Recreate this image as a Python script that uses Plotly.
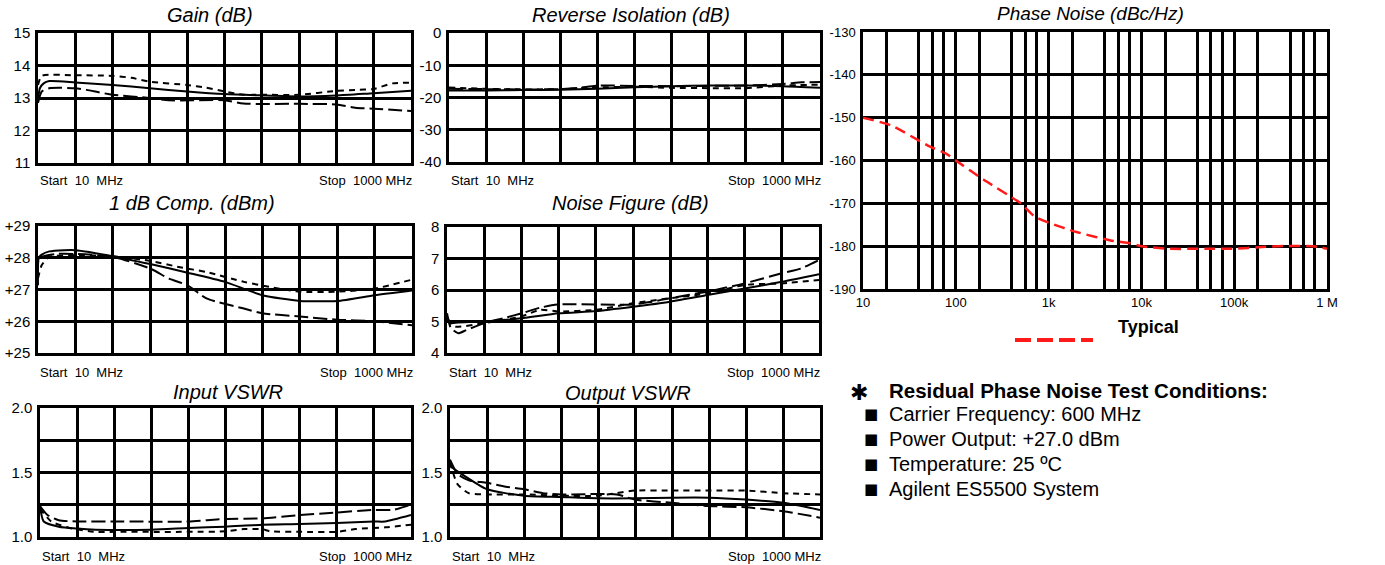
import plotly.graph_objects as go

W, H = 1385, 565

# ---------------- data (frequencies in MHz, values in panel units) ----------------
gain_solid_f = [10, 15, 25, 40, 109, 208, 307, 406, 505, 604, 703, 802, 901, 1000]
gain_solid_v = [12.93, 13.3, 13.45, 13.52, 13.48, 13.40, 13.30, 13.20, 13.12, 13.08, 13.05, 13.08, 13.15, 13.22]
gain_short_f = [10, 20, 109, 208, 258, 307, 406, 456, 505, 555, 604, 703, 802, 852, 901, 951, 1000]
gain_short_v = [13.4, 13.68, 13.70, 13.68, 13.62, 13.5, 13.4, 13.32, 13.2, 13.1, 13.1, 13.1, 13.22, 13.25, 13.28, 13.45, 13.47]
gain_long_f = [10, 20, 40, 109, 139, 208, 307, 357, 505, 555, 703, 802, 852, 901, 1000]
gain_long_v = [12.85, 13.2, 13.3, 13.3, 13.25, 13.1, 13.0, 12.93, 12.93, 12.83, 12.82, 12.8, 12.7, 12.67, 12.6]

iso_solid_f = [10, 109, 208, 307, 406, 505, 604, 703, 802, 901, 1000]
iso_solid_v = [-17.8, -17.8, -17.7, -17.6, -17.3, -16.8, -16.5, -16.3, -16.3, -16.5, -17.0]
iso_short_f = [10, 109, 208, 307, 406, 505, 604, 703, 802, 901, 1000]
iso_short_v = [-16.9, -17.3, -17.5, -17.4, -16.9, -16.7, -17.0, -17.1, -17.1, -16.3, -16.0]
iso_long_f = [10, 109, 208, 307, 357, 406, 505, 604, 703, 802, 901, 951, 1000]
iso_long_v = [-17.3, -17.4, -17.5, -17.4, -17.0, -16.3, -16.4, -16.5, -16.4, -16.3, -15.8, -15.3, -15.2]

comp_solid_f = [10, 12, 20, 40, 79, 109, 208, 307, 406, 505, 604, 703, 802, 901, 1000]
comp_solid_v = [27.13, 28.0, 28.1, 28.2, 28.24, 28.24, 28.05, 27.8, 27.53, 27.24, 26.82, 26.64, 26.64, 26.82, 26.97]
comp_short_f = [10, 20, 40, 109, 208, 307, 386, 456, 555, 624, 703, 802, 901, 1000]
comp_short_v = [27.35, 27.77, 28.03, 28.08, 28.05, 27.9, 27.7, 27.55, 27.24, 27.08, 26.93, 26.93, 27.03, 27.31]
comp_long_f = [10, 12, 25, 60, 109, 208, 307, 357, 406, 456, 555, 604, 703, 802, 901, 1000]
comp_long_v = [27.45, 27.98, 28.05, 28.12, 28.12, 28.03, 27.66, 27.34, 27.13, 26.72, 26.4, 26.25, 26.15, 26.05, 26.0, 25.87]

nf_solid_f = [10, 20, 40, 109, 208, 307, 406, 505, 604, 703, 802, 901, 1000]
nf_solid_v = [5.16, 4.95, 4.97, 5.0, 5.1, 5.26, 5.33, 5.47, 5.63, 5.84, 6.05, 6.26, 6.5]
nf_short_f = [10, 30, 109, 208, 258, 307, 406, 505, 604, 703, 802, 901, 1000]
nf_short_v = [5.05, 4.84, 4.95, 5.16, 5.37, 5.32, 5.37, 5.58, 5.74, 5.89, 6.16, 6.21, 6.32]
nf_long_f = [10, 20, 40, 60, 109, 159, 208, 258, 307, 505, 555, 604, 703, 802, 901, 951, 1000]
nf_long_v = [5.26, 4.8, 4.63, 4.72, 4.95, 5.1, 5.26, 5.44, 5.54, 5.54, 5.63, 5.74, 5.95, 6.21, 6.53, 6.68, 6.95]

ivswr_solid_f = [10, 20, 60, 109, 159, 307, 406, 505, 604, 703, 802, 901, 931, 1000]
ivswr_solid_v = [1.24, 1.12, 1.08, 1.065, 1.057, 1.057, 1.07, 1.08, 1.095, 1.1, 1.108, 1.12, 1.12, 1.17]
ivswr_short_f = [10, 40, 89, 159, 208, 406, 505, 555, 604, 624, 703, 802, 852, 931, 1000]
ivswr_short_v = [1.22, 1.12, 1.07, 1.04, 1.04, 1.04, 1.044, 1.062, 1.06, 1.044, 1.04, 1.04, 1.062, 1.075, 1.095]
ivswr_long_f = [10, 30, 60, 109, 208, 406, 456, 505, 604, 703, 802, 901, 951, 1000]
ivswr_long_v = [1.24, 1.17, 1.13, 1.12, 1.12, 1.12, 1.13, 1.14, 1.145, 1.17, 1.19, 1.21, 1.21, 1.25]

ovswr_solid_f = [10, 40, 109, 208, 307, 406, 505, 604, 703, 802, 901, 1000]
ovswr_solid_v = [1.55, 1.49, 1.37, 1.32, 1.31, 1.3, 1.3, 1.305, 1.305, 1.29, 1.265, 1.21]
ovswr_short_f = [10, 30, 60, 109, 208, 307, 406, 456, 505, 604, 703, 802, 901, 1000]
ovswr_short_v = [1.58, 1.41, 1.34, 1.33, 1.33, 1.32, 1.32, 1.34, 1.36, 1.36, 1.36, 1.36, 1.34, 1.33]
ovswr_long_f = [10, 30, 60, 109, 159, 208, 258, 307, 456, 505, 604, 703, 802, 901, 1000]
ovswr_long_v = [1.6, 1.49, 1.44, 1.42, 1.39, 1.37, 1.34, 1.33, 1.33, 1.29, 1.265, 1.24, 1.23, 1.2, 1.15]

pn_f = [10, 20, 50, 80, 100, 200, 500, 700, 1000, 2000, 5000, 7000, 10000, 20000, 50000,
        100000, 200000, 300000, 700000, 1000000]
pn_v = [-150, -151.8, -156.5, -158.5, -160, -164.5, -170, -173, -174.5, -176.7, -178.8, -179.2,
        -180, -180.6, -180.6, -180.6, -180.2, -180, -180, -180.6]

pn_grid = [10, 18, 40, 56, 74, 100, 180, 400, 560, 740, 1000, 1800, 4000, 5600, 7400,
           10000, 18000, 40000, 56000, 74000, 100000, 180000, 400000, 560000, 740000, 1000000]
pn_grid_text = ["10", "", "", "", "", "100", "", "", "", "", "1k", "", "", "", "",
                "10k", "", "", "", "", "100k", "", "", "", "", "1 M"]
pn_yticks = [-130, -140, -150, -160, -170, -180, -190]

panel_titles = ["Gain (dB)", "Reverse Isolation (dB)", "1 dB Comp. (dBm)", "Noise Figure (dB)",
                "Input VSWR", "Output VSWR", "Phase Noise (dBc/Hz)"]
gain_ticks = [11, 12, 13, 14, 15]
iso_ticks = [-40, -30, -20, -10, 0]
comp_ticks = [25, 26, 27, 28, 29]
comp_ticktext = ["+25", "+26", "+27", "+28", "+29"]
nf_ticks = [4, 5, 6, 7, 8]
vswr_ticks = [1.0, 1.25, 1.5, 1.75, 2.0]
vswr_ticktext = ["1.0", "", "1.5", "", "2.0"]
start_label = "Start  10  MHz"
stop_label = "Stop  1000 MHz"
legend_label = "Typical"
cond_title = "Residual Phase Noise Test Conditions:"
cond_lines = ["Carrier Frequency: 600 MHz", "Power Output: +27.0 dBm",
              "Temperature: 25 ºC", "Agilent ES5500 System"]

# ---------------- layout helpers ----------------
FONT = "Liberation Sans, Arial, Helvetica, sans-serif"


def px(x):
    return x / W


def py(y):
    return 1 - y / H


# panel pixel boxes: (x0, x1, y0(top), y1(bottom))
boxes = {
    1: (38, 411, 33, 163),
    2: (449, 820, 33, 162),
    3: (38, 412, 226, 353),
    4: (447, 819, 227, 353),
    5: (40, 411, 408, 537),
    6: (450, 820, 408, 537),
    7: (863, 1327, 32, 289),
}

fig = go.Figure()

SOLID = "solid"
SHORT = "6px,5px"
LONG = "14px,5px"


def add_series(n, f, v, dash):
    ax = "" if n == 1 else str(n)
    fig.add_trace(go.Scatter(x=f, y=v, mode="lines", xaxis="x" + ax, yaxis="y" + ax,
                             line=dict(color="black", width=2, dash=dash, shape="spline",
                                       smoothing=0.6),
                             showlegend=False, hoverinfo="skip"))


panels = [
    (1, [(gain_solid_f, gain_solid_v, SOLID), (gain_short_f, gain_short_v, SHORT), (gain_long_f, gain_long_v, LONG)]),
    (2, [(iso_solid_f, iso_solid_v, SOLID), (iso_short_f, iso_short_v, SHORT), (iso_long_f, iso_long_v, LONG)]),
    (3, [(comp_solid_f, comp_solid_v, SOLID), (comp_short_f, comp_short_v, SHORT), (comp_long_f, comp_long_v, LONG)]),
    (4, [(nf_solid_f, nf_solid_v, SOLID), (nf_short_f, nf_short_v, SHORT), (nf_long_f, nf_long_v, LONG)]),
    (5, [(ivswr_solid_f, ivswr_solid_v, SOLID), (ivswr_short_f, ivswr_short_v, SHORT), (ivswr_long_f, ivswr_long_v, LONG)]),
    (6, [(ovswr_solid_f, ovswr_solid_v, SOLID), (ovswr_short_f, ovswr_short_v, SHORT), (ovswr_long_f, ovswr_long_v, LONG)]),
]
for n, series in panels:
    for f, v, d in series:
        add_series(n, f, v, d)

fig.add_trace(go.Scatter(x=pn_f, y=pn_v, mode="lines", xaxis="x7", yaxis="y7",
                         line=dict(color="#ff1a1a", width=2.5, dash="11px,6px", shape="spline",
                                   smoothing=0.6),
                         showlegend=False, hoverinfo="skip"))

yinfo = {
    1: dict(range=[11, 15], tickvals=gain_ticks, ticktext=[str(t) for t in gain_ticks]),
    2: dict(range=[-40, 0], tickvals=iso_ticks, ticktext=[str(t) for t in iso_ticks]),
    3: dict(range=[25, 29], tickvals=comp_ticks, ticktext=comp_ticktext),
    4: dict(range=[4, 8], tickvals=nf_ticks, ticktext=[str(t) for t in nf_ticks]),
    5: dict(range=[1.0, 2.0], tickvals=vswr_ticks, ticktext=vswr_ticktext),
    6: dict(range=[1.0, 2.0], tickvals=vswr_ticks, ticktext=vswr_ticktext),
}

axis_common = dict(showline=True, mirror=True, linecolor="black", linewidth=2.5,
                   showgrid=True, gridcolor="black", gridwidth=2.5, zeroline=False,
                   ticks="", fixedrange=True, automargin=False)

layout = dict(width=W, height=H, margin=dict(l=0, r=0, t=0, b=0, pad=0, autoexpand=False),
              paper_bgcolor="white", plot_bgcolor="white",
              font=dict(family=FONT, color="black"), showlegend=False)

for n in range(1, 7):
    x0, x1, y0, y1 = boxes[n]
    ax = "" if n == 1 else str(n)
    layout["xaxis" + ax] = dict(axis_common, domain=[px(x0), px(x1)], range=[10, 1000],
                                tick0=10, dtick=99, showticklabels=False,
                                anchor="y" + ax)
    layout["yaxis" + ax] = dict(axis_common, domain=[py(y1), py(y0)], anchor="x" + ax,
                                tickmode="array", tickfont=dict(size=15, family=FONT),
                                ticklabelstandoff=2, **yinfo[n])

x0, x1, y0, y1 = boxes[7]
layout["xaxis7"] = dict(axis_common, domain=[px(x0), px(x1)], type="log",
                        range=[1, 6], tickmode="array", tickvals=pn_grid, ticktext=pn_grid_text,
                        tickfont=dict(size=13, family=FONT), anchor="y7", ticklabelstandoff=0)
layout["yaxis7"] = dict(axis_common, domain=[py(y1), py(y0)], range=[-190, -130],
                        tickmode="array", tickvals=pn_yticks, ticktext=[str(t) for t in pn_yticks],
                        tickfont=dict(size=13, family=FONT), anchor="x7", ticklabelstandoff=2)

fig.update_layout(**layout)

ann = []
# titles
title_pos = [(210, 15), (631, 15), (192, 203), (630, 203), (228, 392), (628, 393), (1090, 13)]
for (tx, ty), t in zip(title_pos, panel_titles):
    ann.append(dict(x=px(tx), y=py(ty), xref="paper", yref="paper", text="<i>" + t + "</i>",
                    showarrow=False, xanchor="center", yanchor="middle",
                    font=dict(size=20 if t != panel_titles[-1] else 19, family=FONT)))
# start/stop labels
ss_y = {1: 180, 2: 180, 3: 372, 4: 372, 5: 556, 6: 556}
for n in range(1, 7):
    x0, x1, y0, y1 = boxes[n]
    ann.append(dict(x=px(x0), y=py(ss_y[n]), xref="paper", yref="paper", text=start_label,
                    showarrow=False, xanchor="left", yanchor="middle", font=dict(size=13, family=FONT)))
    ann.append(dict(x=px(x1 + 3), y=py(ss_y[n]), xref="paper", yref="paper", text=stop_label,
                    showarrow=False, xanchor="right", yanchor="middle", font=dict(size=13, family=FONT)))
# legend text
ann.append(dict(x=px(1116), y=py(327), xref="paper", yref="paper", text="<b>" + legend_label + "</b>",
                showarrow=False, xanchor="left", yanchor="middle", font=dict(size=18, family=FONT)))
# conditions block
ann.append(dict(x=px(848), y=py(392), xref="paper", yref="paper", text="<b>✱</b>",
                showarrow=False, xanchor="left", yanchor="middle",
                font=dict(size=22, family="DejaVu Sans, sans-serif")))
ann.append(dict(x=px(887), y=py(390), xref="paper", yref="paper", text="<b>" + cond_title + "</b>",
                showarrow=False, xanchor="left", yanchor="middle", font=dict(size=20.5, family=FONT)))
for i, line in enumerate(cond_lines):
    yy = 414 + 25 * i
    ann.append(dict(x=px(862), y=py(yy), xref="paper", yref="paper", text="■",
                    showarrow=False, xanchor="left", yanchor="middle",
                    font=dict(size=15, family="DejaVu Sans, sans-serif")))
    ann.append(dict(x=px(887), y=py(yy), xref="paper", yref="paper", text=line,
                    showarrow=False, xanchor="left", yanchor="middle", font=dict(size=20, family=FONT)))

fig.update_layout(annotations=ann)

# legend sample line
fig.add_shape(type="line", xref="paper", yref="paper", x0=px(1015), x1=px(1093),
              y0=py(340), y1=py(340), line=dict(color="#ff1a1a", width=4, dash="16px,6px"))

fig.write_html("out.html", config={"displayModeBar": False},
               post_script="document.body.style.margin='0';document.body.style.overflow='hidden';")
